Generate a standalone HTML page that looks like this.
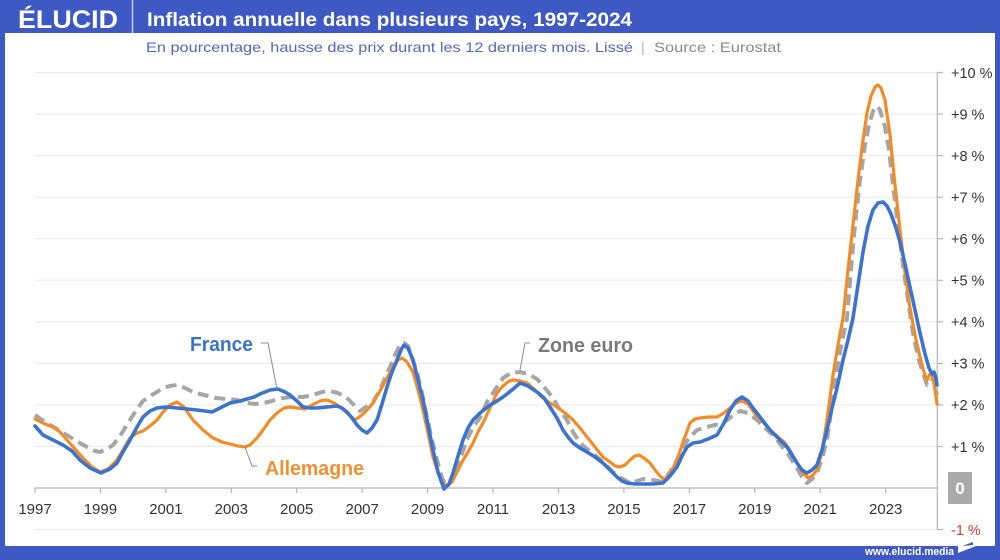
<!DOCTYPE html>
<html><head><meta charset="utf-8"><style>
html,body{margin:0;padding:0;background:#3f59c4;}
svg{display:block;}
text{font-family:"Liberation Sans",sans-serif;}
</style></head><body>
<svg width="1000" height="560" viewBox="0 0 1000 560" xmlns="http://www.w3.org/2000/svg">
<rect x="0" y="0" width="1000" height="560" fill="#3f59c4"/>
<rect x="5" y="33" width="990" height="513" fill="#ffffff"/>
<!-- header -->
<text x="18" y="28" font-size="25" font-weight="bold" fill="#fff" textLength="100" lengthAdjust="spacingAndGlyphs">ÉLUCID</text>
<line x1="132.5" y1="0" x2="132.5" y2="33" stroke="#c9d0f0" stroke-width="1.5"/>
<text x="147" y="26" font-size="19" font-weight="bold" fill="#fff" textLength="485" lengthAdjust="spacingAndGlyphs">Inflation annuelle dans plusieurs pays, 1997-2024</text>
<text x="146" y="52" font-size="14" fill="#5468c0" textLength="487" lengthAdjust="spacingAndGlyphs">En pourcentage, hausse des prix durant les 12 derniers mois. Lissé</text>
<text x="641" y="52" font-size="14" fill="#b0b0b0">|</text>
<text x="654" y="52" font-size="14" fill="#8a8a8a" textLength="127" lengthAdjust="spacingAndGlyphs">Source : Eurostat</text>

<!-- gridlines -->
<g stroke="#e9e9e9" stroke-width="1">
<line x1="35" y1="446.5" x2="937" y2="446.5"/>
<line x1="35" y1="405" x2="937" y2="405"/>
<line x1="35" y1="363.4" x2="937" y2="363.4"/>
<line x1="35" y1="321.8" x2="937" y2="321.8"/>
<line x1="35" y1="280.3" x2="937" y2="280.3"/>
<line x1="35" y1="238.7" x2="937" y2="238.7"/>
<line x1="35" y1="197.2" x2="937" y2="197.2"/>
<line x1="35" y1="155.6" x2="937" y2="155.6"/>
<line x1="35" y1="114" x2="937" y2="114"/>
<line x1="35" y1="72.5" x2="937" y2="72.5"/>
<line x1="35" y1="529.5" x2="937" y2="529.5"/>
</g>
<line x1="35" y1="488" x2="937" y2="488" stroke="#b5b5b5" stroke-width="1.2"/>
<line x1="937.3" y1="72" x2="937.3" y2="530" stroke="#b5b5b5" stroke-width="1.2"/>
<g stroke="#b5b5b5" stroke-width="1.2">
<line x1="937" y1="72.5" x2="943" y2="72.5"/><line x1="937" y1="114" x2="943" y2="114"/>
<line x1="937" y1="155.6" x2="943" y2="155.6"/><line x1="937" y1="197.2" x2="943" y2="197.2"/>
<line x1="937" y1="238.7" x2="943" y2="238.7"/><line x1="937" y1="280.3" x2="943" y2="280.3"/>
<line x1="937" y1="321.8" x2="943" y2="321.8"/><line x1="937" y1="363.4" x2="943" y2="363.4"/>
<line x1="937" y1="405" x2="943" y2="405"/><line x1="937" y1="446.5" x2="943" y2="446.5"/>
<line x1="937" y1="529.5" x2="943" y2="529.5"/>
<line x1="35" y1="488" x2="35" y2="493"/><line x1="100.4" y1="488" x2="100.4" y2="493"/>
<line x1="165.9" y1="488" x2="165.9" y2="493"/><line x1="231.3" y1="488" x2="231.3" y2="493"/>
<line x1="296.7" y1="488" x2="296.7" y2="493"/><line x1="362.2" y1="488" x2="362.2" y2="493"/>
<line x1="427.6" y1="488" x2="427.6" y2="493"/><line x1="493" y1="488" x2="493" y2="493"/>
<line x1="558.5" y1="488" x2="558.5" y2="493"/><line x1="623.9" y1="488" x2="623.9" y2="493"/>
<line x1="689.4" y1="488" x2="689.4" y2="493"/><line x1="754.8" y1="488" x2="754.8" y2="493"/>
<line x1="820.2" y1="488" x2="820.2" y2="493"/><line x1="885.7" y1="488" x2="885.7" y2="493"/>
</g>

<!-- x labels -->
<g font-size="15" fill="#333" text-anchor="middle">
<text x="35" y="514">1997</text><text x="100.4" y="514">1999</text><text x="165.9" y="514">2001</text>
<text x="231.3" y="514">2003</text><text x="296.7" y="514">2005</text><text x="362.2" y="514">2007</text>
<text x="427.6" y="514">2009</text><text x="493" y="514">2011</text><text x="558.5" y="514">2013</text>
<text x="623.9" y="514">2015</text><text x="689.4" y="514">2017</text><text x="754.8" y="514">2019</text>
<text x="820.2" y="514">2021</text><text x="885.7" y="514">2023</text>
</g>
<!-- y labels -->
<g font-size="14.5" fill="#333">
<text x="951" y="78">+10 %</text><text x="951" y="119.5">+9 %</text><text x="951" y="161">+8 %</text>
<text x="951" y="202.5">+7 %</text><text x="951" y="244">+6 %</text><text x="951" y="285.5">+5 %</text>
<text x="951" y="327">+4 %</text><text x="951" y="368.5">+3 %</text><text x="951" y="410">+2 %</text>
<text x="951" y="452">+1 %</text>
<text x="951" y="535" fill="#d23c3c">-1 %</text>
</g>
<rect x="948" y="472" width="24" height="32" fill="#a9a9a9"/>
<text x="960" y="494" font-size="17" font-weight="bold" fill="#fff" text-anchor="middle">0</text>

<!-- series -->
<g fill="none" stroke-linejoin="round" stroke-linecap="round">
<polyline stroke="#a6a6a6" stroke-width="4" stroke-dasharray="11 6" stroke-linecap="butt" points="35,415 42,420 50,425 60,431 70,437 78,442 87,447 95,451 100,452 107,449 113,445 120,436 125,428 130,420 137,409 143,401 150,396 157,392 163,388 170,386 177,385 185,388 193,392 200,394 208,396 216,398 226,399 237,400 247,403 255,404 263,403 272,401 283,398 292,397 303,397 313,395 322,392 330,391 338,393 347,398 354,405 360,411 366,407 373,402 380,390 385,378 390,367 395,355 400,345 404,343 408,346 412,358 417,372 422,393 427,417 432,440 437,460 442,478 447,487 452,480 456,470 460,460 466,442 473,427 480,418 487,402 495,390 503,378 511,373 520,372 528,374 537,379 545,388 553,398 560,410 567,420 573,432 580,443 588,450 597,457 605,464 613,472 621,478 630,483 637,481 643,479 653,480 663,482 670,472 677,460 683,447 690,437 697,430 707,427 715,425 723,423 731,417 740,411 748,413 757,420 765,428 773,435 781,445 790,457 797,468 802,477 807,483 812,479 817,473 822,458 827,440 831,412 834,390 840,352 847,318 851,270 855,225 860,180 865,145 869,125 873,111 877,106 880,110 885,127 889,150 893,185 898,225 903,265 908,300 913,333 918,357 923,373 927,385 930,383 933,378 935,385 937,395"/>
<polyline stroke="#f28c28" stroke-width="3.2" points="35,419 45,424 53,427 60,432 67,440 75,449 83,458 92,467 100,472 108,469 117,460 123,450 130,438 137,433 143,431 150,426 157,420 163,412 170,405 177,402 184,407 193,420 203,430 213,438 222,442 230,444 238,446 245,447 250,445 257,438 263,430 270,420 277,413 284,408 290,407 297,408 305,409 312,405 320,401 327,400 334,403 340,407 347,413 355,420 362,415 368,409 373,403 380,391 387,378 393,367 398,360 402,358 407,362 413,372 418,390 423,410 428,433 433,457 438,473 442,482 447,486 452,482 457,472 462,462 468,452 473,443 478,432 483,423 490,408 497,393 503,386 509,381 514,380 520,381 527,383 535,390 543,398 550,403 557,407 565,413 573,420 580,428 587,437 595,447 603,457 610,462 615,466 620,467 625,465 630,460 635,456 639,455 644,458 650,463 655,470 660,476 665,480 670,474 677,460 683,442 690,423 695,419 700,418 708,417 717,417 724,413 730,408 736,403 742,401 748,404 756,415 763,422 770,430 778,437 785,443 791,452 797,463 803,473 808,478 813,475 817,470 821,455 825,433 829,405 833,375 838,345 843,318 848,270 853,225 858,180 863,140 867,113 871,96 875,87 878,85 881,88 885,100 890,135 895,185 900,230 905,272 910,308 915,335 920,357 924,372 927,380 929,376 931,372 933,378 935,390 937,404"/>
<polyline stroke="#3b73cf" stroke-width="3.6" points="35,426 43,435 55,441 63,445 72,451 80,460 90,468 101,473 110,469 117,463 123,452 130,440 137,427 143,417 150,411 157,408 167,407 177,408 187,409 197,410 205,411 212,412 220,408 230,403 240,401 247,399 254,397 260,394 270,390 278,389 285,392 290,395 297,401 303,407 310,408 317,408 327,407 337,406 342,408 347,412 352,418 357,425 362,430 367,433 372,428 377,420 382,404 387,387 392,372 397,360 401,350 404,345 408,348 413,360 418,380 423,400 428,425 433,450 438,472 444,489 449,484 453,473 458,456 463,440 468,428 473,420 480,413 490,405 497,401 503,397 512,390 520,383 528,386 537,392 544,398 550,407 557,418 563,430 568,437 573,443 580,448 587,452 595,457 603,463 610,470 617,477 622,481 627,483 635,484 643,484 653,484 663,483 670,476 677,467 682,456 687,447 693,443 700,442 708,439 717,435 724,423 730,410 736,401 742,397 748,401 753,408 760,417 770,430 778,438 787,447 792,455 797,463 802,470 807,473 812,470 817,465 822,450 827,430 832,408 837,388 843,360 848,340 853,318 858,285 863,252 868,226 873,210 878,203 883,202 887,206 891,214 896,228 900,242 905,264 910,287 915,310 920,333 925,354 929,368 932,374 934,372 936,378 937,385"/>
</g>

<!-- annotations -->
<g stroke="#8c8c8c" stroke-width="1" fill="none">
<polyline points="261,343 268,343 277,389"/>
<polyline points="530,343 525,343 520,370"/>
<polyline points="245,447 252,466 257,466"/>
</g>
<text x="190" y="351" font-size="20" font-weight="bold" fill="#3a72c9" textLength="63" lengthAdjust="spacingAndGlyphs">France</text>
<text x="538" y="352" font-size="20" font-weight="bold" fill="#7a7a7a" textLength="95" lengthAdjust="spacingAndGlyphs">Zone euro</text>
<text x="265" y="475" font-size="20" font-weight="bold" fill="#f0902e" textLength="99" lengthAdjust="spacingAndGlyphs">Allemagne</text>

<!-- footer -->
<text x="865" y="555" font-size="11" font-weight="bold" fill="#fff" textLength="89" lengthAdjust="spacingAndGlyphs">www.elucid.media</text>
<polygon points="958,546 976,539 976,546 958,553" fill="#fff"/>
<polygon points="962,546 973,542 973,545" fill="#3f59c4"/>
</svg>
</body></html>
